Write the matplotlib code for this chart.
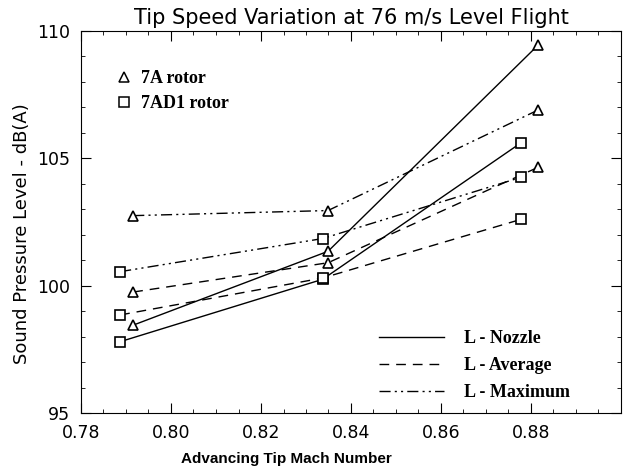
import numpy as np
import matplotlib
matplotlib.use("Agg")
import matplotlib.pyplot as plt
from matplotlib.lines import Line2D
from matplotlib.ticker import MultipleLocator

# 7A rotor (triangles)
tri_mach = [0.7916, 0.8349, 0.8816]
tri_nozzle = [98.45, 101.35, 109.45]
tri_average = [99.75, 100.9, 104.65]
tri_maximum = [102.75, 102.95, 106.9]

# 7AD1 rotor (squares)
sq_mach = [0.7887, 0.8337, 0.8777]
sq_nozzle = [97.8, 100.25, 105.6]
sq_average = [98.85, 100.3, 102.6]
sq_maximum = [100.55, 101.85, 104.25]

x_ticks = [0.78, 0.80, 0.82, 0.84, 0.86, 0.88]
y_ticks = [95, 100, 105, 110]

styles = {
    'nozzle': '-',
    'average': (0, (7, 5)),
    'maximum': (0, (8, 3, 1.5, 3, 1.5, 3)),
}

plt.rcParams['font.family'] = 'DejaVu Sans'

fig = plt.figure(figsize=(6.34, 4.71), dpi=100)
ax = fig.add_axes([81/634, 1-413/471, 540/634, 382/471])

mk = dict(markersize=6.5, markerfacecolor='white', markeredgecolor='black', markeredgewidth=1.2)
lw = 1.0
ax.plot(tri_mach, tri_nozzle, linestyle=styles['nozzle'], color='black', lw=lw, marker='^', **mk)
ax.plot(tri_mach, tri_average, linestyle=styles['average'], color='black', lw=lw, marker='^', **mk)
ax.plot(tri_mach, tri_maximum, linestyle=styles['maximum'], color='black', lw=lw, marker='^', **mk)
ax.plot(sq_mach, sq_nozzle, linestyle=styles['nozzle'], color='black', lw=lw, marker='s', **mk)
ax.plot(sq_mach, sq_average, linestyle=styles['average'], color='black', lw=lw, marker='s', **mk)
ax.plot(sq_mach, sq_maximum, linestyle=styles['maximum'], color='black', lw=lw, marker='s', **mk)

ax.set_xlim(0.78, 0.90)
ax.set_ylim(95, 110)
ax.set_xticks(x_ticks)
ax.set_xticklabels(['%.2f' % t for t in x_ticks])
ax.set_yticks(y_ticks)
ax.xaxis.set_minor_locator(MultipleLocator(0.005))
ax.yaxis.set_minor_locator(MultipleLocator(1))
ax.tick_params(which='both', direction='in', top=True, right=True, labelsize=12.5, pad=8)
ax.tick_params(which='major', length=7, width=0.8)
ax.tick_params(which='minor', length=3, width=0.6)
for s in ax.spines.values():
    s.set_linewidth(0.8)

ax.set_title('Tip Speed Variation at 76 m/s Level Flight', fontsize=15, pad=5)
ax.set_xlabel('Advancing Tip Mach Number', fontsize=11, fontweight='bold',
              family='Liberation Sans', labelpad=7, x=0.38)
ax.set_ylabel('Sound Pressure Level - dB(A)', fontsize=13, labelpad=4, y=0.47)

serif = dict(family='Liberation Serif', weight='bold', size=13)

marker_handles = [
    Line2D([], [], linestyle='none', marker='^', markersize=6.5, markerfacecolor='white',
           markeredgecolor='black', markeredgewidth=1.1),
    Line2D([], [], linestyle='none', marker='s', markersize=6.5, markerfacecolor='white',
           markeredgecolor='black', markeredgewidth=1.1),
]
leg1 = ax.legend(marker_handles, ['7A rotor', '7AD1 rotor'], loc='upper left',
                 bbox_to_anchor=(0.035, 0.94), frameon=False, prop=serif,
                 handlelength=0.9, handletextpad=0.5, labelspacing=0.45)
ax.add_artist(leg1)

line_handles = [Line2D([], [], color='black', lw=1.0, linestyle=styles[k])
                for k in ['nozzle', 'average', 'maximum']]
ax.legend(line_handles, ['L - Nozzle', 'L - Average', 'L - Maximum'], loc='lower right',
          bbox_to_anchor=(0.935, -0.012), frameon=False, prop=serif,
          handlelength=3.6, handletextpad=1.1, labelspacing=0.55)

fig.savefig('out.png', dpi=100)
